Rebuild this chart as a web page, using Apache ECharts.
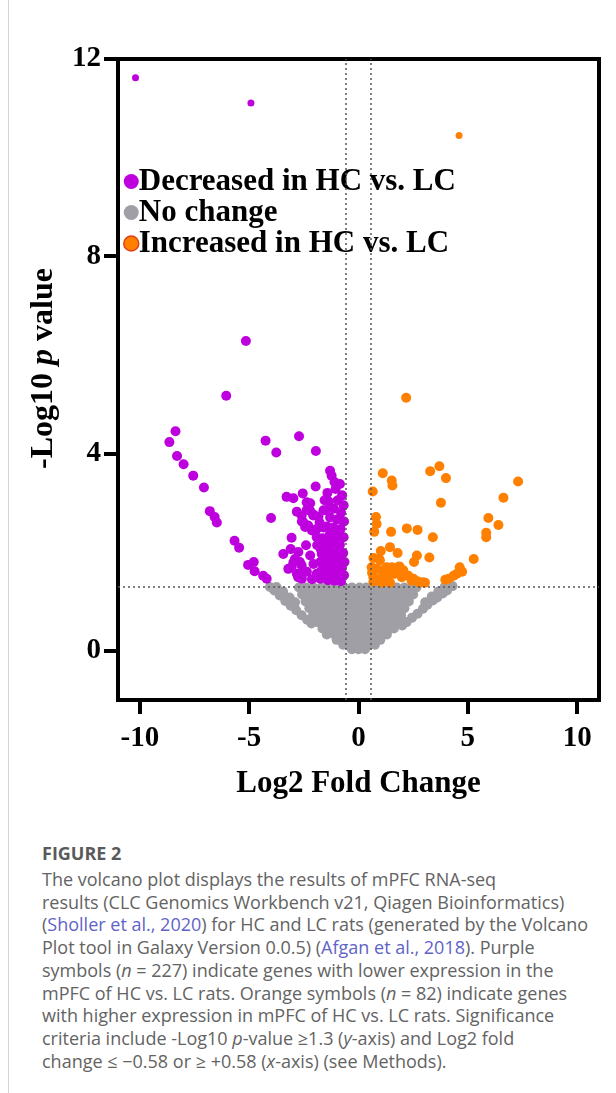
<!DOCTYPE html>
<html>
<head>
<meta charset="utf-8">
<script src="https://cdn.jsdelivr.net/npm/echarts@6/dist/echarts.min.js"></script>
<style>
  body{margin:0;background:#fff;}
  #main{position:absolute;left:0;top:0;width:616px;height:830px;}
  #edge{position:absolute;left:8px;top:0;width:1px;height:1093px;background:#d4d4d4;}
  #caption{position:absolute;left:42px;top:842px;font-family:'Open Sans',sans-serif;color:#636363;font-size:18px;line-height:22.75px;white-space:nowrap;}
  #caption .fig{font-weight:bold;font-size:18px;color:#5a5a5a;margin-bottom:3px;}
  #caption a{color:#5f63c8;text-decoration:none;}
</style>
</head>
<body>
<div id="edge"></div>
<div id="main"></div>
<div id="caption">
  <div class="fig">FIGURE 2</div>
  The volcano plot displays the results of mPFC RNA-seq<br>
  results (CLC Genomics Workbench v21, Qiagen Bioinformatics)<br>
  (<a>Sholler et al., 2020</a>) for HC and LC rats (generated by the Volcano<br>
  Plot tool in Galaxy Version 0.0.5) (<a>Afgan et al., 2018</a>). Purple<br>
  symbols (<i>n</i> = 227) indicate genes with lower expression in the<br>
  mPFC of HC vs. LC rats. Orange symbols (<i>n</i> = 82) indicate genes<br>
  with higher expression in mPFC of HC vs. LC rats. Significance<br>
  criteria include -Log10 <i>p</i>-value ≥1.3 (<i>y</i>-axis) and Log2 fold<br>
  change ≤ −0.58 or ≥ +0.58 (<i>x</i>-axis) (see Methods).
</div>
<script>
// 阈值
var fcCut = 0.58;
var pCut = 1.3;
var xTicks = [-10, -5, 0, 5, 10];
var yTicks = [0, 4, 8, 12];

// 显著下调 (紫色)
var decreased = [
  [-5.15,6.28],[-6.05,5.17],
  [-8.37,4.45],[-8.65,4.23],[-8.3,3.95],[-8.0,3.78],[-7.56,3.55],[-7.07,3.31],[-6.8,2.83],[-6.58,2.71],[-6.48,2.6],
  [-5.67,2.23],[-5.46,2.09],[-5.05,1.74],[-4.79,1.8],[-4.75,1.61],[-4.36,1.52],[-4.2,1.46],
  [-4.25,4.26],[-3.76,4.02],[-2.72,4.35],[-1.95,4.05],
  [-4.0,2.69],[-3.29,3.12],[-2.98,3.09],[-2.55,3.19],[-1.96,3.33],
  [-3.06,2.29],[-3.44,1.96],[-3.1,2.06],
  [-1.3,3.65],[-1.23,3.55],[-1.1,3.42],[-0.85,3.38],
  [-2.21,2.99],[-2.36,2.86],[-2.82,2.82],[-2.59,2.62],[-2.06,2.76],[-1.83,2.72],[-1.6,2.5],[-2.13,2.44],
  [-2.44,2.51],[-1.91,2.3],[-2.4,2.14],[-1.89,2.14],[-2.75,2.0],[-2.21,1.93],[-1.68,1.96],[-2.98,1.79],
  [-2.6,1.73],[-2.06,1.76],[-1.6,1.73],[-3.21,1.66],[-2.82,1.56],[-2.36,1.6],[-1.91,1.56],[-1.53,1.52],
  [-2.59,1.46],[-2.13,1.45],[-1.75,1.46],
  [-2.68,1.8],[-2.91,1.86],[-3.06,1.69],[-2.76,1.49],[-2.53,1.59],
  [-2.37,3.01],[-2.22,2.84],[-2.07,2.74],[-2.6,2.74],[-2.53,2.61],[-2.3,2.54],[-1.91,2.47],
  [-1.42,3.2],[-1.05,3.28],[-0.75,3.15],
  [-1.35,3.02],[-0.95,3.05],[-0.68,2.95],
  [-1.48,2.85],[-1.12,2.88],[-0.8,2.8],
  [-1.3,2.7],[-0.98,2.66],[-0.66,2.62],
  [-1.45,2.52],[-1.15,2.5],[-0.82,2.47],
  [-1.32,2.35],[-1.0,2.32],[-0.68,2.3],
  [-1.5,2.2],[-1.18,2.18],[-0.85,2.15],
  [-1.35,2.03],[-1.02,2.0],[-0.7,1.98],
  [-1.52,1.88],[-1.2,1.86],[-0.88,1.84],[-0.64,1.8],
  [-1.38,1.72],[-1.06,1.7],[-0.76,1.68],
  [-1.55,1.58],[-1.25,1.56],[-0.92,1.55],[-0.66,1.53],
  [-1.4,1.43],[-1.1,1.42],[-0.8,1.41],
  [-1.7,1.62],[-1.75,1.8],[-1.72,2.05],[-1.65,2.28],[-1.78,2.6],[-1.6,2.85],[-1.55,3.05]
];
var decreasedTop = [[-10.2,11.62],[-4.92,11.11]];

// 无变化 (灰色)
var noChange = [
  [-2.72,1.28],[-2.4,1.28],[-2.05,1.28],[-1.7,1.28],[-1.35,1.28],[-1.0,1.28],[-0.65,1.28],[-0.3,1.28],[0.05,1.28],[0.35,1.28],[0.7,1.28],[1.05,1.28],[1.4,1.28],[1.75,1.28],[2.1,1.28],[2.45,1.28],[2.65,1.28],
  [-2.58,1.14],[-2.25,1.14],[-1.9,1.14],[-1.55,1.14],[-1.2,1.14],[-0.85,1.14],[-0.5,1.14],[-0.15,1.14],[0.2,1.14],[0.55,1.14],[0.9,1.14],[1.25,1.14],[1.6,1.14],[1.95,1.14],[2.3,1.14],[2.5,1.14],
  [-2.42,1.0],[-2.1,1.0],[-1.75,1.0],[-1.4,1.0],[-1.05,1.0],[-0.7,1.0],[-0.35,1.0],[0.0,1.0],[0.35,1.0],[0.7,1.0],[1.05,1.0],[1.4,1.0],[1.75,1.0],[2.05,1.0],[2.3,1.0],
  [-2.25,0.86],[-1.92,0.86],[-1.58,0.86],[-1.24,0.86],[-0.9,0.86],[-0.55,0.86],[-0.2,0.86],[0.15,0.86],[0.5,0.86],[0.85,0.86],[1.2,0.86],[1.55,0.86],[1.85,0.86],[2.1,0.86],
  [-2.08,0.72],[-1.75,0.72],[-1.4,0.72],[-1.05,0.72],[-0.7,0.72],[-0.35,0.72],[0.0,0.72],[0.35,0.72],[0.7,0.72],[1.05,0.72],[1.4,0.72],[1.7,0.72],[1.95,0.72],
  [-1.88,0.58],[-1.55,0.58],[-1.2,0.58],[-0.85,0.58],[-0.5,0.58],[-0.15,0.58],[0.2,0.58],[0.55,0.58],[0.9,0.58],[1.25,0.58],[1.55,0.58],[1.8,0.58],
  [-1.65,0.45],[-1.3,0.45],[-0.95,0.45],[-0.6,0.45],[-0.25,0.45],[0.1,0.45],[0.45,0.45],[0.8,0.45],[1.15,0.45],[1.45,0.45],[1.62,0.45],
  [-1.45,0.33],[-1.1,0.33],[-0.75,0.33],[-0.4,0.33],[-0.05,0.33],[0.3,0.33],[0.65,0.33],[1.0,0.33],[1.3,0.33],
  [-1.0,0.22],[-0.68,0.22],[-0.35,0.22],[0.0,0.22],[0.35,0.22],[0.68,0.22],[1.0,0.22],
  [-0.7,0.12],[-0.4,0.12],[-0.1,0.12],[0.2,0.12],[0.5,0.12],[0.75,0.12],
  [-0.3,0.03],[0.0,0.03],[0.3,0.03],
  [-4.05,1.29],[-3.85,1.22],[-3.6,1.12],[-3.35,1.01],[-3.1,0.91],[-2.85,0.82],[-2.6,0.72],[-2.35,0.63],[-2.15,0.55],
  [-3.75,1.29],[-3.45,1.2],[-3.15,1.08],[-2.9,0.98],
  [4.3,1.31],[4.05,1.22],[3.85,1.16],[3.6,1.08],[3.4,1.02],[3.15,0.93],[2.95,0.85],[2.7,0.75],[2.45,0.67],[2.2,0.58],[2.0,0.51],
  [3.95,1.3],[3.65,1.2],[3.35,1.1],[3.05,0.98]
];

// 显著上调 (橙色)
var increased = [
  [2.18,5.13],
  [1.11,3.6],[1.52,3.45],[1.55,3.35],[0.65,3.23],[3.28,3.64],[3.7,3.74],[4.0,3.5],[3.77,3.0],
  [7.3,3.43],[6.63,3.1],[5.94,2.69],[6.4,2.55],[5.84,2.39],[5.84,2.3],[5.27,1.86],
  [0.8,2.71],[0.83,2.57],[0.72,2.41],[1.49,2.41],[2.21,2.48],[2.7,2.45],[3.4,2.3],
  [1.02,2.02],[1.44,2.1],[1.79,1.98],[2.67,1.93],[2.54,1.8],[3.24,1.89],
  [4.63,1.69],[4.74,1.6],[4.5,1.56],[4.35,1.52],[4.12,1.46],[3.97,1.44],
  [0.68,1.88],[0.95,1.86],[0.6,1.69],[0.83,1.66],[1.11,1.63],[0.68,1.49],[0.95,1.47],[1.29,1.52],
  [1.52,1.69],[1.67,1.56],[1.87,1.71],[2.05,1.63],[1.98,1.49],[2.28,1.52],[2.43,1.42],[2.81,1.38],
  [3.04,1.38],[1.44,1.38],[1.06,1.38],[0.98,1.83],[1.29,1.69],[1.82,1.69],[2.51,1.46],[2.69,1.41],
  [2.94,1.39],[0.68,1.4],[1.14,1.46],[1.59,1.56],[0.62,1.58]
];
var increasedTop = [[4.6,10.45]];

var serif = "'Liberation Serif','Times New Roman',serif";
var purple = '#BE00DE';
var gray = '#A09FA5';
var orange = '#FF8000';

function withTop(list, top){
  var out = list.slice();
  top.forEach(function(p){ out.push({value:p, symbolSize:7}); });
  return out;
}

var myChart = echarts.init(document.getElementById('main'));
myChart.setOption({
  animation:false,
  grid:{left:118, top:59, right:17, bottom:130, show:true, borderColor:'#000', borderWidth:4, backgroundColor:'transparent'},
  legend:{
    orient:'vertical', left:123, top:166, padding:0, itemGap:0,
    itemWidth:15, itemHeight:15, icon:'circle',
    textStyle:{fontFamily:serif, fontWeight:'bold', fontSize:31, color:'#000', lineHeight:29, padding:[0,0,0,-5]},
    data:[
      {name:'Decreased in HC vs. LC'},
      {name:'No change'},
      {name:'Increased in HC vs. LC', itemStyle:{borderColor:'#E0401A', borderWidth:1.5}}
    ]
  },
  xAxis:{
    type:'value', min:-11, max:11,
    name:'Log2 Fold Change', nameLocation:'middle', nameGap:68,
    nameTextStyle:{fontFamily:serif, fontWeight:'bold', fontSize:31, color:'#000'},
    axisLine:{show:true, onZero:false, lineStyle:{color:'#000', width:4}},
    axisTick:{show:true, length:14, lineStyle:{color:'#000', width:4}, customValues:xTicks},
    axisLabel:{fontFamily:serif, fontWeight:'bold', fontSize:29, color:'#000', margin:24, customValues:xTicks},
    splitLine:{show:false}
  },
  yAxis:{
    type:'value', min:-1, max:12,
    name:'-Log10 {i|p} value', nameLocation:'middle', nameGap:58,
    nameTextStyle:{fontFamily:serif, fontWeight:'bold', fontSize:32, color:'#000', padding:[0,0,0,22],
      rich:{i:{fontFamily:serif, fontWeight:'bold', fontStyle:'italic', fontSize:32, color:'#000'}}},
    axisLine:{show:true, onZero:false, lineStyle:{color:'#000', width:4}},
    axisTick:{show:true, length:14, lineStyle:{color:'#000', width:4}, customValues:yTicks},
    axisLabel:{fontFamily:serif, fontWeight:'bold', fontSize:29, color:'#000', margin:17, customValues:yTicks},
    splitLine:{show:false}
  },
  series:[
    {
      name:'thresholds', type:'scatter', data:[], z:1, silent:true,
      markLine:{
        silent:true, symbol:'none', label:{show:false},
        lineStyle:{color:'#555', type:[2,3], width:1.5},
        data:[{xAxis:-fcCut},{xAxis:fcCut},{yAxis:pCut}]
      }
    },
    {name:'No change', type:'scatter', z:2, symbolSize:10, itemStyle:{color:gray, opacity:1}, data:noChange},
    {name:'Decreased in HC vs. LC', type:'scatter', z:3, symbolSize:10, itemStyle:{color:purple, opacity:1}, data:withTop(decreased, decreasedTop)},
    {name:'Increased in HC vs. LC', type:'scatter', z:3, symbolSize:10, itemStyle:{color:orange, opacity:1}, data:withTop(increased, increasedTop)}
  ]
});
</script>
</body>
</html>
